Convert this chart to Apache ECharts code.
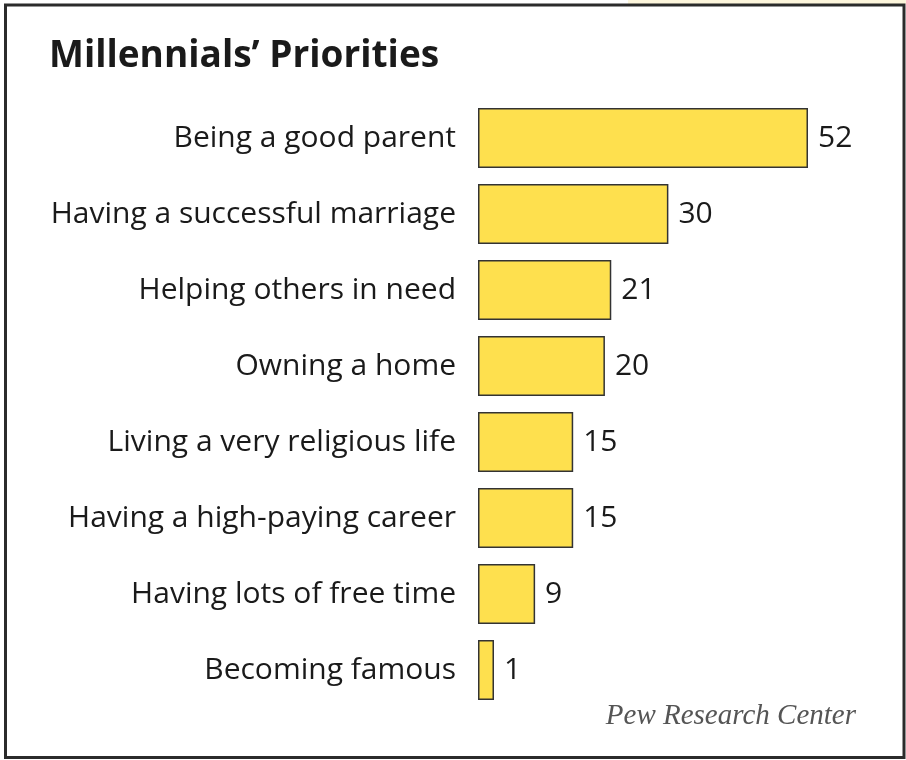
<!DOCTYPE html>
<html>
<head>
<meta charset="utf-8">
<script src="https://cdn.jsdelivr.net/npm/echarts@6/dist/echarts.min.js"></script>
<style>
  html, body { margin: 0; padding: 0; background: #ffffff; }
  #chart { width: 906px; height: 760px; }
</style>
</head>
<body>
<div id="chart"></div>
<script>
// Survey answers: share of millennials naming each goal as one of the most important
const categories = [
  'Being a good parent',
  'Having a successful marriage',
  'Helping others in need',
  'Owning a home',
  'Living a very religious life',
  'Having a high-paying career',
  'Having lots of free time',
  'Becoming famous'
];
const values = [52, 30, 21, 20, 15, 15, 9, 1];

const titleText = 'Millennials\u2019 Priorities';
const sourceText = 'Pew Research Center';

const chart = echarts.init(document.getElementById('chart'), null, { renderer: 'canvas' });

chart.setOption({
  backgroundColor: '#ffffff',
  animation: false,
  title: {
    text: titleText,
    left: 44,
    top: 33,
    textStyle: {
      fontFamily: 'Open Sans',
      fontWeight: 'bold',
      fontSize: 37,
      color: '#1a1a1a'
    }
  },
  graphic: [
    // thin cream strip above the frame on the right
    {
      type: 'rect',
      shape: { x: 628, y: 0, width: 278, height: 4 },
      style: { fill: '#fdf6dc' },
      silent: true
    },
    // frame around the whole chart
    {
      type: 'rect',
      shape: { x: 5.5, y: 5, width: 898.5, height: 752.5 },
      style: { fill: 'none', stroke: '#2b2b2b', lineWidth: 3 },
      silent: true
    },
    {
      type: 'text',
      right: 50,
      top: 702,
      style: {
        text: sourceText,
        font: 'italic 29px "Liberation Serif", "DejaVu Serif", serif',
        fill: '#555555'
      }
    }
  ],
  grid: {
    left: 478,
    right: 98,
    top: 100,
    bottom: 52
  },
  xAxis: {
    type: 'value',
    min: 0,
    max: 52,
    show: false
  },
  yAxis: {
    type: 'category',
    data: categories,
    inverse: true,
    axisLine: { show: false },
    axisTick: { show: false },
    splitLine: { show: false },
    axisLabel: {
      margin: 22,
      fontFamily: 'Open Sans',
      fontSize: 30,
      color: '#1a1a1a'
    }
  },
  series: [
    {
      type: 'bar',
      data: values,
      barWidth: 60,
      barMinHeight: 16,
      itemStyle: {
        color: '#fee04e',
        borderColor: '#333333',
        borderWidth: 1.5
      },
      label: {
        show: true,
        position: 'right',
        distance: 10,
        fontFamily: 'Open Sans',
        fontSize: 30,
        color: '#1a1a1a'
      }
    }
  ]
});
</script>
</body>
</html>
